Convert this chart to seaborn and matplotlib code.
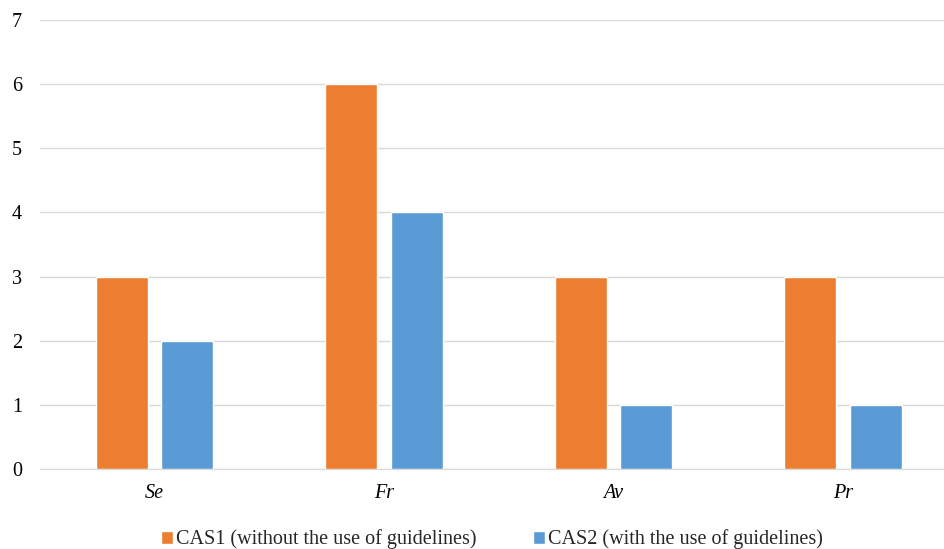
import pandas as pd
import matplotlib.pyplot as plt
import seaborn as sns

# dados do gráfico
categorias = ['Se', 'Fr', 'Av', 'Pr']
cas1 = [3, 6, 3, 3]
cas2 = [2, 4, 1, 1]
series = ['CAS1 (without the use of guidelines)', 'CAS2 (with the use of guidelines)']
cores = ['#ED7D31', '#5B9BD5']

df = pd.DataFrame({
    'categoria': categorias * 2,
    'valor': cas1 + cas2,
    'serie': [series[0]] * 4 + [series[1]] * 4,
})

sns.set_style('white')
plt.rcParams['font.family'] = ['Liberation Serif', 'DejaVu Serif']

fig = plt.figure(figsize=(9.45, 5.49), dpi=100)
# a área do gráfico passa um pouco da borda direita, como no original
ax = fig.add_axes([0.0421, 0.1457, 0.9714, 0.8179])

sns.barplot(data=df, x='categoria', y='valor', hue='serie', palette=cores,
            width=0.571, gap=0.206, saturation=1, errorbar=None, ax=ax)

ax.set_ylim(0, 7)
ax.set_yticks(range(0, 8))
ax.set_xlim(-0.5, 3.5)
ax.yaxis.grid(True, color='#D9D9D9', linewidth=1)
ax.set_axisbelow(True)
for lado in ['top', 'right', 'left']:
    ax.spines[lado].set_visible(False)
ax.spines['bottom'].set_color('#D9D9D9')
ax.set_xlabel('')
ax.set_ylabel('')
ax.tick_params(axis='both', length=0, labelsize=14.5, colors='black')
ax.tick_params(axis='x', pad=11)
ax.tick_params(axis='y', pad=20)
for rot in ax.get_xticklabels():
    rot.set_fontstyle('italic')
for rot in ax.get_yticklabels():
    rot.set_horizontalalignment('left')

ax.legend(loc='center', bbox_to_anchor=(0.493, -0.157), ncol=2, frameon=False,
          fontsize=14.5, handlelength=0.6, handleheight=0.6, handletextpad=0.15,
          columnspacing=2.8)

fig.savefig('out.png', dpi=100)
